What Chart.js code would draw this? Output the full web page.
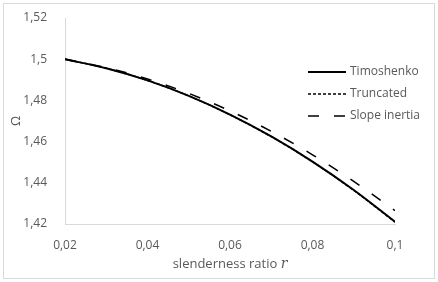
<!DOCTYPE html>
<html lang="en">
<head>
  <meta charset="UTF-8">
  <title>Omega vs slenderness ratio</title>
  <script src="https://cdn.jsdelivr.net/npm/chart.js"></script>
  <style>
    body { margin: 0; background: #fff; }
    .wrap { width: 438px; height: 282px; }
  </style>
</head>
<body>
<div class="wrap"><canvas id="grafico" width="438" height="282"></canvas></div>
<script>
const ratios = [0.02, 0.03, 0.04, 0.05, 0.06, 0.07, 0.08, 0.09, 0.1];
const timoshenko = [1.5, 1.4956, 1.4897, 1.4822, 1.4731, 1.4625, 1.4503, 1.4365, 1.4211];
const truncated = [1.5, 1.4956, 1.4897, 1.4822, 1.4730, 1.4624, 1.4502, 1.4363, 1.4209];
const slopeInertia = [1.5, 1.4959, 1.4904, 1.4834, 1.4749, 1.4650, 1.4536, 1.4407, 1.4265];
const xTicks = [0.02, 0.04, 0.06, 0.08, 0.1];
const yTicks = [1.42, 1.44, 1.46, 1.48, 1.5, 1.52];

const cinza = '#595959';
const fonte = '"Open Sans", "Noto Sans", sans-serif';

function virgula(v) {
  return String(+(+v).toFixed(2)).replace('.', ',');
}

function pontos(ys) {
  return ratios.map((r, i) => ({ x: r, y: ys[i] }));
}

const series = [
  { label: 'Timoshenko', data: pontos(timoshenko), dash: [], width: 2 },
  { label: 'Truncated', data: pontos(truncated), dash: [3, 2], width: 1.5 },
  { label: 'Slope inertia', data: pontos(slopeInertia), dash: [11, 15], width: 1.5 }
];

// moldura, legenda e título do eixo x (com r em itálico)
const extras = {
  id: 'extras',
  beforeDraw(chart) {
    const ctx = chart.ctx;
    ctx.save();
    ctx.strokeStyle = '#d9d9d9';
    ctx.lineWidth = 1;
    ctx.strokeRect(3.5, 3.5, 431, 275);
    ctx.restore();
  },
  afterDraw(chart) {
    const ctx = chart.ctx;
    ctx.save();
    ctx.font = '12px ' + fonte;
    ctx.fillStyle = cinza;
    ctx.textBaseline = 'middle';
    series.forEach((s, i) => {
      const y = 72 + i * 22;
      ctx.beginPath();
      ctx.strokeStyle = '#000';
      ctx.lineWidth = s.width;
      ctx.setLineDash(s.dash);
      ctx.moveTo(308, y);
      ctx.lineTo(346, y);
      ctx.stroke();
      ctx.setLineDash([]);
      ctx.fillText(s.label, 350, y);
    });

    const txt = 'slenderness ratio ';
    ctx.font = '13px ' + fonte;
    const w1 = ctx.measureText(txt).width;
    ctx.font = 'italic 14px "DejaVu Serif", serif';
    const w2 = ctx.measureText('r').width;
    const x0 = 230 - (w1 + w2) / 2;
    ctx.font = '13px ' + fonte;
    ctx.fillText(txt, x0, 264);
    ctx.font = 'italic 14px "DejaVu Serif", serif';
    ctx.fillText('r', x0 + w1, 264);
    ctx.restore();
  }
};

new Chart(document.getElementById('grafico'), {
  type: 'line',
  data: {
    datasets: series.map(s => ({
      label: s.label,
      data: s.data,
      borderColor: '#000',
      borderWidth: s.width,
      borderDash: s.dash,
      pointRadius: 0,
      fill: false,
      cubicInterpolationMode: 'monotone'
    }))
  },
  options: {
    responsive: false,
    animation: false,
    layout: { padding: { top: 18, right: 43, bottom: 0, left: 0 } },
    plugins: { legend: { display: false }, tooltip: { enabled: false } },
    scales: {
      x: {
        type: 'linear',
        min: 0.02, max: 0.1,
        afterBuildTicks: axis => { axis.ticks = xTicks.map(v => ({ value: v })); },
        afterFit: axis => { axis.height = 58; },
        grid: { display: false },
        border: { display: true, color: '#d9d9d9' },
        ticks: { color: cinza, font: { family: fonte, size: 12 }, padding: 6, callback: virgula }
      },
      y: {
        min: 1.42, max: 1.52,
        afterBuildTicks: axis => { axis.ticks = yTicks.map(v => ({ value: v })); },
        afterFit: axis => { axis.width = 65; },
        grid: { display: false },
        border: { display: true, color: '#d9d9d9' },
        title: { display: true, text: 'Ω', color: cinza, font: { family: fonte, size: 13 }, padding: { top: 8, bottom: 0 } },
        ticks: { color: cinza, font: { family: fonte, size: 12 }, padding: 10, callback: virgula }
      }
    }
  },
  plugins: [extras]
});
</script>
</body>
</html>
